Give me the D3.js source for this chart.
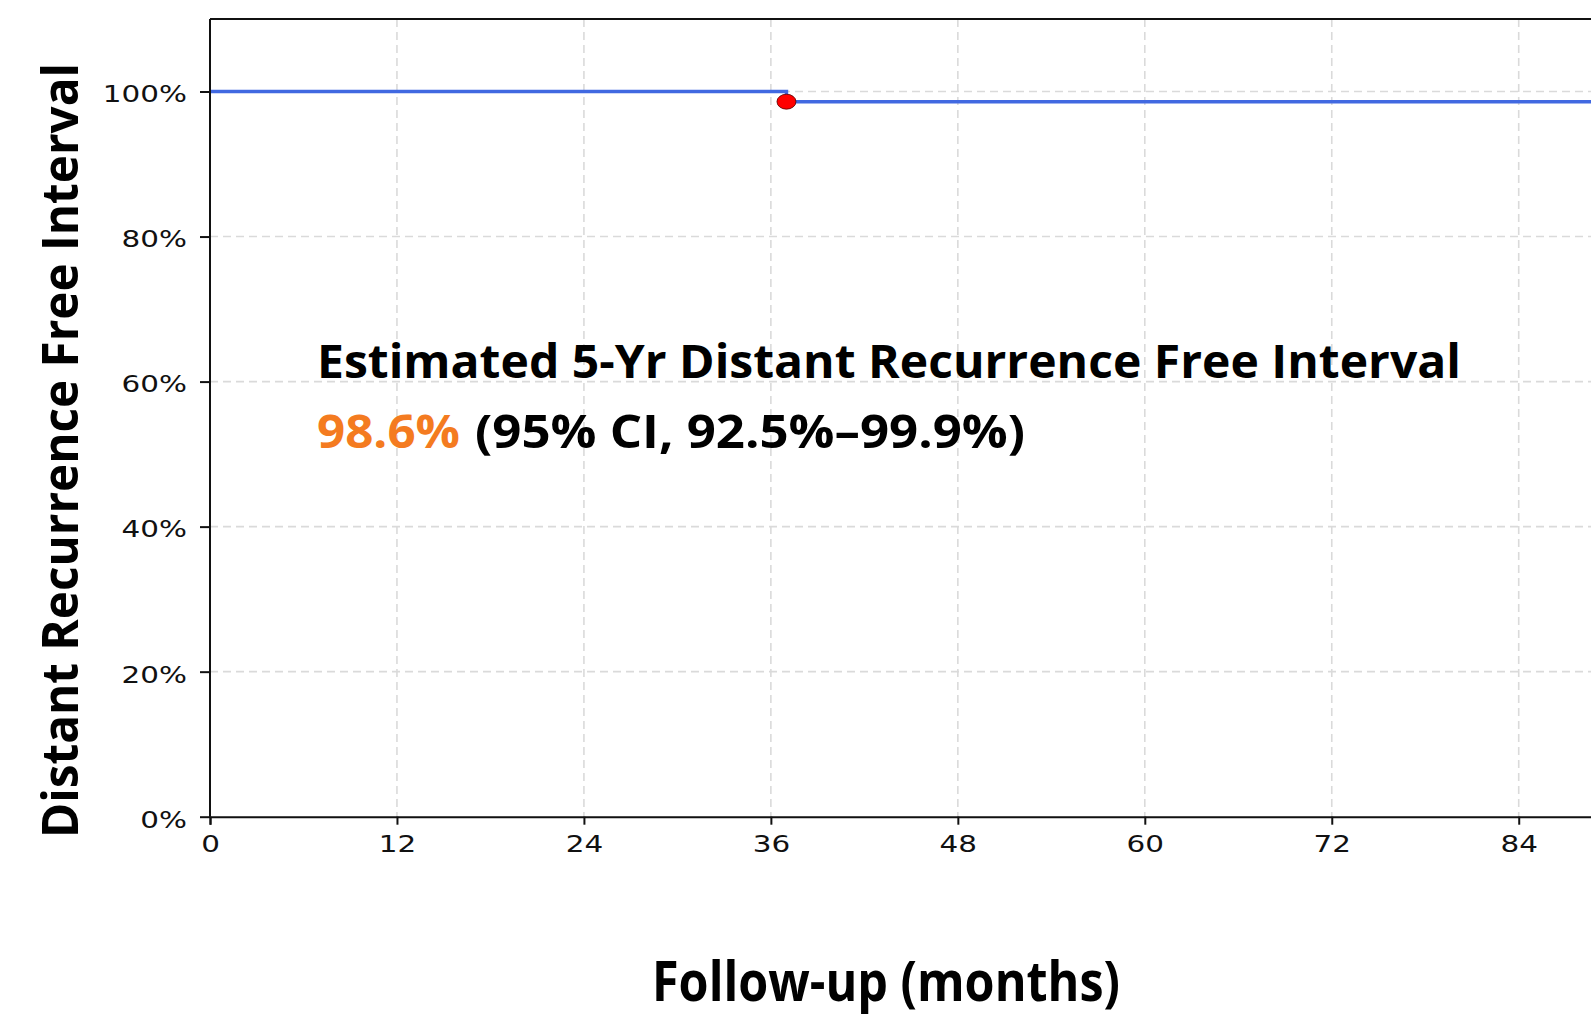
<!DOCTYPE html>
<html>
<head>
<meta charset="utf-8">
<script src="https://cdn.jsdelivr.net/npm/d3@7"></script>
<style>
  body { margin: 0; background: #fff; }
  svg { display: block; }
</style>
</head>
<body>
<svg id="chart" width="1591" height="1016"></svg>
<script>
// Kaplan-Meier style step curve, distant recurrence free interval

// data
const months = [0, 37, 96];
const survival = [1.0, 0.986, 0.986];
const eventMonths = [37];
const eventSurvival = [0.986];
const xTicks = [0, 12, 24, 36, 48, 60, 72, 84];
const yTicks = [0, 0.2, 0.4, 0.6, 0.8, 1.0];
const titleLine = 'Estimated 5-Yr Distant Recurrence Free Interval';
const estimateLabel = '98.6%';
const ciLabel = '(95% CI, 92.5%\u201399.9%)';
const xTitle = 'Follow-up (months)';
const yTitle = 'Distant Recurrence Free Interval';

const svg = d3.select('#chart');
const plotLeft = 210, plotTop = 19, plotBottom = 816.7;
const pxPerMonth = 15.58;

const x = d3.scaleLinear().domain([0, 96]).range([plotLeft, plotLeft + 96 * pxPerMonth]);
const y = d3.scaleLinear().domain([0, 1.1]).range([plotBottom, plotTop]);

svg.append('rect').attr('width', 1591).attr('height', 1016).attr('fill', '#fff');

// grid
const grid = svg.append('g')
  .attr('stroke', '#dadada')
  .attr('stroke-width', 1.6)
  .attr('stroke-dasharray', '8,5');
grid.selectAll('line.v')
  .data(xTicks.filter(d => d > 0))
  .join('line')
    .attr('class', 'v')
    .attr('x1', d => x(d)).attr('x2', d => x(d))
    .attr('y1', plotTop).attr('y2', plotBottom);
grid.selectAll('line.h')
  .data(yTicks.filter(d => d > 0))
  .join('line')
    .attr('class', 'h')
    .attr('x1', plotLeft).attr('x2', x(96))
    .attr('y1', d => y(d)).attr('y2', d => y(d));

// step curve
const line = d3.line()
  .x((d, i) => x(months[i]))
  .y(d => y(d))
  .curve(d3.curveStepAfter);
svg.append('path')
  .datum(survival)
  .attr('d', line)
  .attr('fill', 'none')
  .attr('stroke', '#4169E1')
  .attr('stroke-width', 3.5);

// event marker
svg.selectAll('ellipse.event')
  .data(eventMonths)
  .join('ellipse')
    .attr('class', 'event')
    .attr('cx', d => x(d))
    .attr('cy', (d, i) => y(eventSurvival[i]))
    .attr('rx', 9.5)
    .attr('ry', 7.5)
    .attr('fill', '#ff0000')
    .attr('stroke', '#500')
    .attr('stroke-width', 0.8);

// axes
const stretch = 1.28;
const xAxis = svg.append('g')
  .attr('transform', `translate(0,${plotBottom})`)
  .call(d3.axisBottom(x).tickValues(xTicks).tickSize(8).tickPadding(11).tickFormat(d3.format('d')));
const yAxis = svg.append('g')
  .attr('transform', `translate(${plotLeft},0)`)
  .call(d3.axisLeft(y).tickValues(yTicks).tickSize(10).tickPadding(8).tickFormat(d3.format('.0%')));

[xAxis, yAxis].forEach(a => {
  a.select('.domain').attr('stroke', '#111').attr('stroke-width', 2);
  a.selectAll('.tick line').attr('stroke', '#111').attr('stroke-width', 2);
  a.selectAll('.tick text')
    .attr('fill', '#111')
    .style('font-family', '"DejaVu Sans", sans-serif')
    .style('font-size', '23px')
    .attr('transform', `scale(${stretch},1)`);
});
yAxis.select('.domain').attr('d', `M0,${plotTop}V${plotBottom}`);
yAxis.selectAll('.tick text').attr('dy', '0.45em');

// top spine
svg.append('line')
  .attr('x1', plotLeft).attr('x2', x(96))
  .attr('y1', plotTop).attr('y2', plotTop)
  .attr('stroke', '#111').attr('stroke-width', 2);

// annotation
const bold = '"Open Sans", Lato, sans-serif';
svg.append('text')
  .attr('x', 317).attr('y', 378)
  .attr('textLength', 1144).attr('lengthAdjust', 'spacingAndGlyphs')
  .style('font-family', bold).style('font-weight', 700).style('font-size', '46px')
  .attr('fill', '#000')
  .text(titleLine);
svg.append('text')
  .attr('x', 317).attr('y', 448)
  .attr('textLength', 143).attr('lengthAdjust', 'spacingAndGlyphs')
  .style('font-family', bold).style('font-weight', 700).style('font-size', '46px')
  .attr('fill', '#F47B20')
  .text(estimateLabel);
svg.append('text')
  .attr('x', 475).attr('y', 448)
  .attr('textLength', 550).attr('lengthAdjust', 'spacingAndGlyphs')
  .style('font-family', bold).style('font-weight', 700).style('font-size', '46px')
  .attr('fill', '#000')
  .text(ciLabel);

// axis titles
svg.append('text')
  .attr('x', 652).attr('y', 1001)
  .attr('textLength', 468).attr('lengthAdjust', 'spacingAndGlyphs')
  .style('font-family', bold).style('font-weight', 700).style('font-size', '55px')
  .attr('fill', '#000')
  .text(xTitle);
svg.append('text')
  .attr('transform', 'translate(78,838) rotate(-90)')
  .attr('textLength', 775).attr('lengthAdjust', 'spacingAndGlyphs')
  .style('font-family', bold).style('font-weight', 700).style('font-size', '50px')
  .attr('fill', '#000')
  .text(yTitle);
</script>
</body>
</html>
